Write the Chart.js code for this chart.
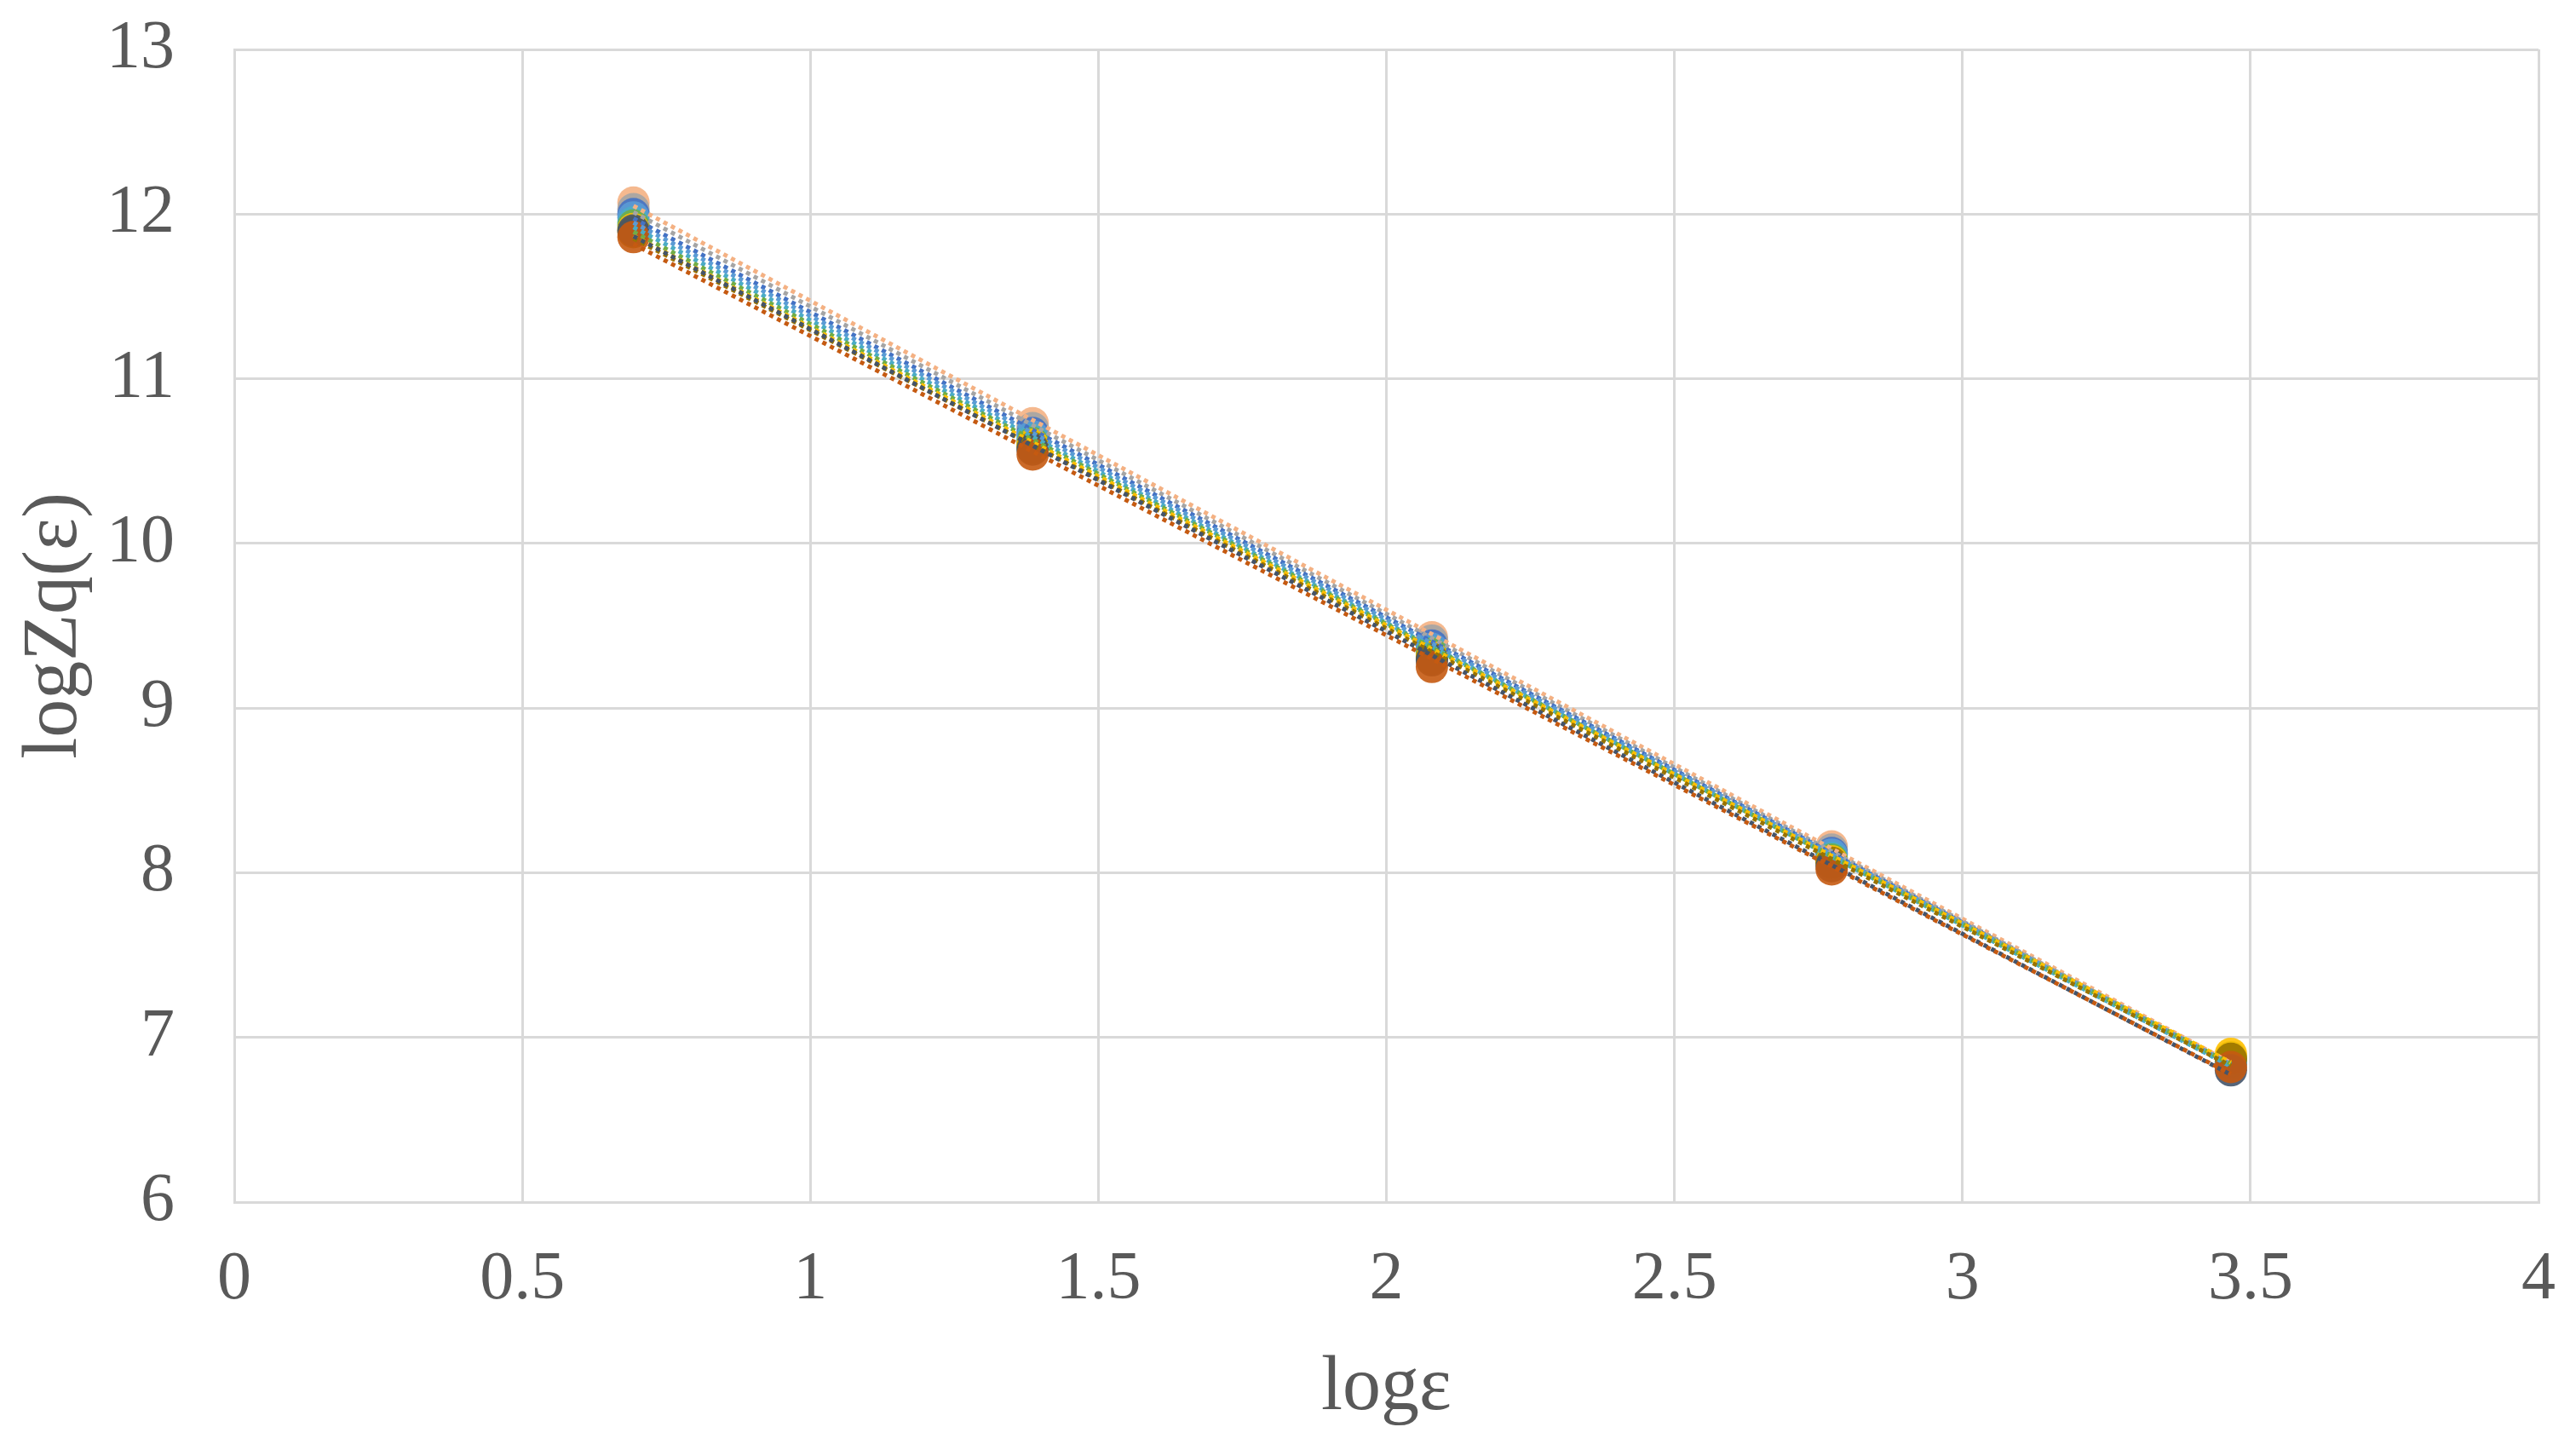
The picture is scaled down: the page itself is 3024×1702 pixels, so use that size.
<!DOCTYPE html>
<html>
<head>
<meta charset="utf-8">
<script src="https://cdn.jsdelivr.net/npm/chart.js@4"></script>
<style>
  body { margin: 0; background: #fff; }
  #wrap { width: 3024px; height: 1702px; }
</style>
</head>
<body>
<div id="wrap"><canvas id="chart"></canvas></div>
<script>
// x positions (log of box size)
const logEps = [0.693, 1.386, 2.079, 2.773, 3.466];

// one array per series
const s1 = [12.07, 10.73, 9.43, 8.16, 6.85];
const s2 = [12.03, 10.70, 9.41, 8.14, 6.84];
const s3 = [12.00, 10.67, 9.38, 8.12, 6.85];
const s4 = [11.98, 10.65, 9.36, 8.11, 6.86];
const s5 = [11.95, 10.63, 9.34, 8.09, 6.85];
const s6 = [11.93, 10.61, 9.33, 8.08, 6.88];
const s7 = [11.91, 10.60, 9.31, 8.07, 6.90];
const s8 = [11.89, 10.58, 9.30, 8.06, 6.87];
const s9 = [11.90, 10.57, 9.29, 8.04, 6.80];
const s10 = [11.86, 10.54, 9.25, 8.02, 6.82];

const seriesList = [s1, s2, s3, s4, s5, s6, s7, s8, s9, s10];
const colors = ["#F4B183", "#A5A5A5", "#4472C4", "#5B9BD5", "#4BACC6",
                "#70AD47", "#FFC000", "#997300", "#44546A", "#C55A11"];

// axis ticks
const xTicks = [0, 0.5, 1, 1.5, 2, 2.5, 3, 3.5, 4];
const yTicks = [6, 7, 8, 9, 10, 11, 12, 13];

// least squares fit for the dotted trend lines
function linFit(xs, ys) {
  const n = xs.length;
  let sx = 0, sy = 0, sxx = 0, sxy = 0;
  for (let i = 0; i < n; i++) {
    sx += xs[i]; sy += ys[i];
    sxx += xs[i] * xs[i]; sxy += xs[i] * ys[i];
  }
  const b = (n * sxy - sx * sy) / (n * sxx - sx * sx);
  const a = (sy - b * sx) / n;
  return x => a + b * x;
}

const datasets = [];
seriesList.forEach((ys, i) => {
  datasets.push({
    label: "series " + (i + 1),
    data: logEps.map((x, j) => ({ x: x, y: ys[j] })),
    backgroundColor: colors[i] + "E6",
    borderColor: colors[i] + "E6",
    pointRadius: 19,
    pointBorderWidth: 0,
    showLine: false,
    order: 20 - i
  });
  const f = linFit(logEps, ys);
  const x0 = logEps[0], x1 = logEps[logEps.length - 1];
  datasets.push({
    label: "trend " + (i + 1),
    data: [{ x: x0, y: f(x0) }, { x: x1, y: f(x1) }],
    borderColor: colors[i],
    borderWidth: 5,
    borderDash: [5, 5],
    pointRadius: 0,
    showLine: true,
    fill: false,
    order: -1 - i
  });
});

const tickFont = { family: "'Liberation Serif', 'Times New Roman', serif", size: 80 };
const titleFont = { family: "'Liberation Serif', 'Times New Roman', serif", size: 90 };
const gridColor = "#D9D9D9";

new Chart(document.getElementById("chart"), {
  type: "scatter",
  data: { datasets: datasets },
  options: {
    responsive: true,
    maintainAspectRatio: false,
    animation: false,
    layout: { padding: 0 },
    plugins: {
      legend: { display: false },
      tooltip: { enabled: false }
    },
    scales: {
      x: {
        type: "linear",
        min: xTicks[0],
        max: xTicks[xTicks.length - 1],
        afterBuildTicks: s => { s.ticks = xTicks.map(v => ({ value: v })); },
        afterFit: s => {
          s.height = 291;
          s.paddingLeft = 0;
          s.paddingRight = 44;
        },
        grid: { color: gridColor, lineWidth: 3, drawTicks: false },
        border: { color: gridColor, width: 3 },
        ticks: {
          color: "#595959", font: tickFont, padding: 44, maxRotation: 0,
          callback: v => String(v)
        },
        title: {
          display: true,
          text: "logε",
          color: "#595959",
          font: titleFont,
          padding: { top: 18, bottom: 18 }
        }
      },
      y: {
        type: "linear",
        min: yTicks[0],
        max: yTicks[yTicks.length - 1],
        afterBuildTicks: s => { s.ticks = yTicks.map(v => ({ value: v })); },
        afterFit: s => {
          s.width = 275;
          s.paddingTop = 58;
          s.paddingBottom = 0;
        },
        grid: { color: gridColor, lineWidth: 3, drawTicks: false },
        border: { color: gridColor, width: 3 },
        ticks: { color: "#595959", font: tickFont, padding: 70, callback: v => String(v) },
        title: {
          display: true,
          text: "logZq(ε)",
          color: "#595959",
          font: titleFont,
          padding: { top: 11, bottom: 11 }
        }
      }
    }
  }
});
</script>
</body>
</html>
